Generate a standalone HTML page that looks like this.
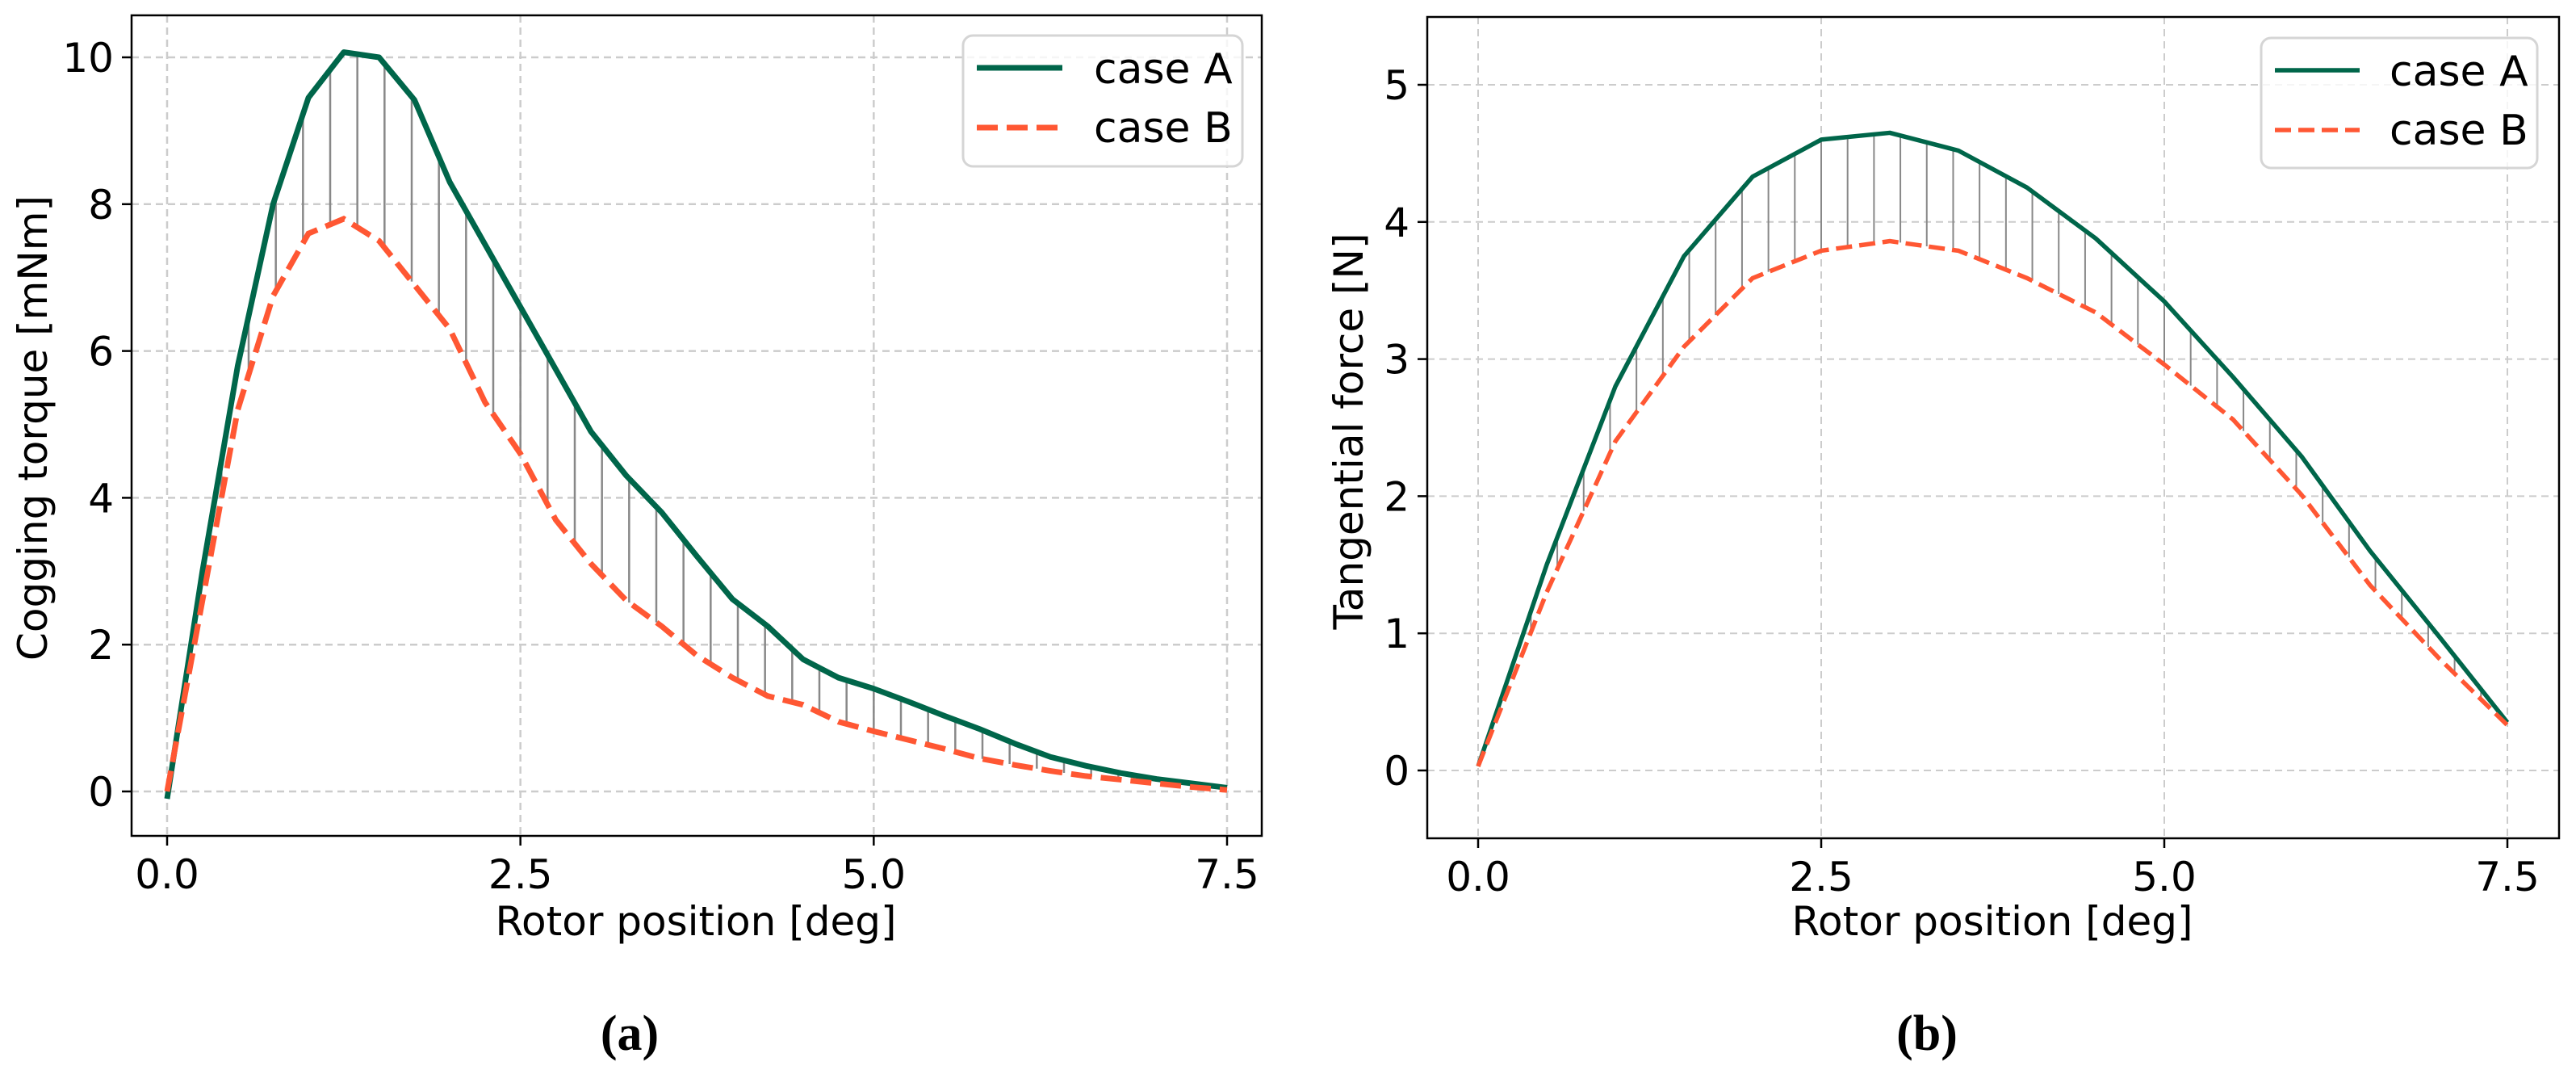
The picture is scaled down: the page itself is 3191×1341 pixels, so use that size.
<!DOCTYPE html>
<html><head><meta charset="utf-8">
<style>
html,body{margin:0;padding:0;background:#fff;}
svg text{font-family:"DejaVu Sans","Liberation Sans",sans-serif;}
</style></head>
<body>
<svg id="fig" width="3191" height="1336" viewBox="0 0 3191 1336" xmlns="http://www.w3.org/2000/svg">
<rect width="3191" height="1336" fill="#fff"/>
<g id="pa"></g>
<g id="pb"></g>
<text x="780" y="1300" text-anchor="middle" font-size="62" font-weight="bold" style="font-family:'Liberation Serif',serif">(a)</text>
<text x="2387" y="1300" text-anchor="middle" font-size="62" font-weight="bold" style="font-family:'Liberation Serif',serif">(b)</text>
</svg>
<script>
// Panel (a) data
const aX = [0,0.25,0.5,0.75,1.0,1.25,1.5,1.75,2.0,2.25,2.5,2.75,3.0,3.25,3.5,3.75,4.0,4.25,4.5,4.75,5.0,5.25,5.5,5.75,6.0,6.25,6.5,6.75,7.0,7.25,7.5];
const aCaseA = [-0.1,3.0,5.8,8.0,9.45,10.07,10.0,9.42,8.3,7.45,6.6,5.75,4.9,4.3,3.8,3.2,2.62,2.25,1.8,1.55,1.4,1.22,1.03,0.85,0.65,0.47,0.35,0.25,0.17,0.11,0.05];
const aCaseB = [0.0,2.6,5.2,6.75,7.6,7.8,7.5,6.9,6.3,5.3,4.6,3.7,3.1,2.6,2.25,1.85,1.55,1.3,1.18,0.95,0.82,0.7,0.58,0.45,0.36,0.28,0.21,0.16,0.11,0.06,0.02];
const aXTicks = [0,2.5,5.0,7.5];
const aXTickLabels = ["0.0","2.5","5.0","7.5"];
const aYTicks = [0,2,4,6,8,10];
const aYTickLabels = ["0","2","4","6","8","10"];
// Panel (b) data
const bX = [0,0.5,1.0,1.5,2.0,2.5,3.0,3.5,4.0,4.5,5.0,5.5,6.0,6.5,7.0,7.5];
const bCaseA = [0.03,1.5,2.8,3.75,4.33,4.6,4.65,4.52,4.25,3.88,3.42,2.87,2.29,1.6,0.98,0.35];
const bCaseB = [0.03,1.3,2.4,3.09,3.59,3.79,3.86,3.79,3.59,3.34,2.96,2.56,2.01,1.35,0.82,0.33];
const bXTicks = [0,2.5,5.0,7.5];
const bXTickLabels = ["0.0","2.5","5.0","7.5"];
const bYTicks = [0,1,2,3,4,5];
const bYTickLabels = ["0","1","2","3","4","5"];

const NS="http://www.w3.org/2000/svg";
function mk(tag, attrs, parent){const e=document.createElementNS(NS,tag);for(const k in attrs)e.setAttribute(k,attrs[k]);parent.appendChild(e);return e;}
function interp(xs, ys, x){for(let i=0;i<xs.length-1;i++){if(x>=xs[i]&&x<=xs[i+1]){const t=(x-xs[i])/(xs[i+1]-xs[i]);return ys[i]+t*(ys[i+1]-ys[i]);}}return ys[ys.length-1];}

function panel(g, cfg){
  const sx=v=>cfg.x0+(v-0)*(cfg.x75-cfg.x0)/7.5;
  const sy=v=>cfg.y0+(v-cfg.v0)*(cfg.yT-cfg.y0)/(cfg.vT-cfg.v0);
  // grid
  cfg.xt.forEach((t,i)=>{
    const l=mk('line',{x1:sx(t),x2:sx(t),y1:cfg.top,y2:cfg.bot,stroke:'#cccccc','stroke-width':cfg.gw,'stroke-dasharray':cfg.gd},g);
    
    
    const tk=mk('line',{x1:sx(t),x2:sx(t),y1:cfg.bot,y2:cfg.bot+12,stroke:'#000','stroke-width':2.5},g);
    
    
    const tx=mk('text',{x:sx(t),y:cfg.bot+65,'text-anchor':'middle','font-size':50},g);
    tx.textContent=cfg.xtl[i];
    
    
  });
  cfg.yt.forEach((t,i)=>{
    const l=mk('line',{x1:cfg.left,x2:cfg.right,y1:sy(t),y2:sy(t),stroke:'#cccccc','stroke-width':cfg.gw,'stroke-dasharray':cfg.gd},g);
    
    
    const tk=mk('line',{x1:cfg.left-12,x2:cfg.left,y1:sy(t),y2:sy(t),stroke:'#000','stroke-width':2.5},g);
    
    
    const tx=mk('text',{x:cfg.left-22,y:sy(t)+18,'text-anchor':'end','font-size':50},g);
    tx.textContent=cfg.ytl[i];
    
    
  });
  // vertical connector lines
  const n=40;
  for(let i=1;i<n-1;i++){
    const x=i*7.5/(n-1);
    const ya=interp(cfg.xs,cfg.a,x), yb=interp(cfg.xs,cfg.b,x);
    const l=mk('line',{x1:sx(x),x2:sx(x),y1:sy(ya),y2:sy(yb),stroke:'#888','stroke-width':cfg.vw},g);
    
    
  }
  const pa=cfg.xs.map((x,i)=>sx(x)+','+sy(cfg.a[i])).join(' ');
  const pb=cfg.xs.map((x,i)=>sx(x)+','+sy(cfg.b[i])).join(' ');
  const la=mk('polyline',{points:pa,fill:'none',stroke:'#00664a','stroke-width':cfg.lw,'stroke-linejoin':'round'},g);
  
  
  const lb=mk('polyline',{points:pb,fill:'none',stroke:'#ff5733','stroke-width':cfg.lw,'stroke-dasharray':cfg.dash},g);
  
  
  // frame
  const fr=mk('rect',{x:cfg.left,y:cfg.top,width:cfg.right-cfg.left,height:cfg.bot-cfg.top,fill:'none',stroke:'#000','stroke-width':2.5},g);
  
  
  // legend
  const L=cfg.leg;
  const lg=mk('g',{},g);
  
  
  mk('rect',{x:L.x,y:L.y,width:L.w,height:L.h,rx:12,fill:'rgba(255,255,255,0.8)',stroke:'#d5d5d5','stroke-width':3},lg);
  const e1=mk('line',{x1:L.lx1,x2:L.lx2,y1:L.y+40,y2:L.y+40,stroke:'#00664a','stroke-width':cfg.lw},lg);
  
  
  const t1=mk('text',{x:L.tx,y:L.y+59,'font-size':52},lg);t1.textContent='case A';
  
  
  const e2=mk('line',{x1:L.lx1,x2:L.lx2,y1:L.y+114,y2:L.y+114,stroke:'#ff5733','stroke-width':cfg.lw,'stroke-dasharray':cfg.dash},lg);
  
  
  const t2=mk('text',{x:L.tx,y:L.y+132,'font-size':52},lg);t2.textContent='case B';
  
  
  // axis labels
  const xl=mk('text',{x:cfg.xlx,y:1158,'text-anchor':'middle','font-size':50},g);
  xl.textContent='Rotor position [deg]';
  
  
  const yl=mk('text',{x:0,y:0,'text-anchor':'middle','font-size':50,transform:`translate(${cfg.ylx},${cfg.yly}) rotate(-90)`},g);
  yl.textContent=cfg.ylabel;
  
  
}

panel(document.getElementById('pa'),{
  left:163,right:1563,top:19,bot:1035,x0:207,x75:1520,y0:980,yT:71,v0:0,vT:10,
  xs:aX,a:aCaseA,b:aCaseB,xt:aXTicks,xtl:aXTickLabels,yt:aYTicks,ytl:aYTickLabels,
  gw:2.5,gd:'9,6',vw:2.5,lw:7,dash:'26,11',
  leg:{x:1193,y:44,w:346,h:162,lx1:1210,lx2:1316,tx:1355},
  xlx:862,ylx:58,yly:530,ylabel:'Cogging torque [mNm]'
});
panel(document.getElementById('pb'),{
  left:1768,right:3170,top:21,bot:1038,x0:1831,x75:3106,y0:954,yT:105,v0:0,vT:5,
  xs:bX,a:bCaseA,b:bCaseB,xt:bXTicks,xtl:bXTickLabels,yt:bYTicks,ytl:bYTickLabels,
  gw:2,gd:'9,6',vw:2,lw:5.5,dash:'20,9',
  leg:{x:2801,y:47,w:342,h:161,lx1:2818,lx2:2923,tx:2960},
  xlx:2468,ylx:1688,yly:534,ylabel:'Tangential force [N]'
});
</script>
</body></html>
